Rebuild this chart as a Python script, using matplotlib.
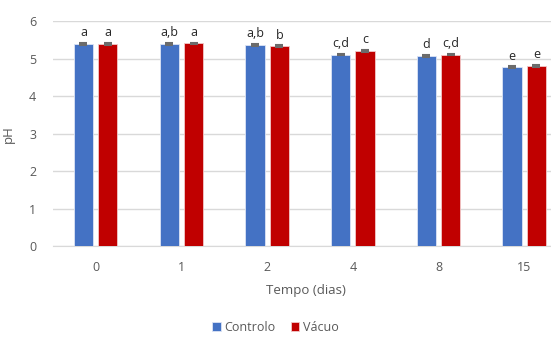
import numpy as np
import matplotlib
matplotlib.use('Agg')
import matplotlib.pyplot as plt

days = ['0', '1', '2', '4', '8', '15']
controlo = [5.40, 5.39, 5.36, 5.11, 5.08, 4.77]
vacuo = [5.40, 5.41, 5.34, 5.21, 5.11, 4.81]
controlo_err = [0.03, 0.03, 0.03, 0.02, 0.02, 0.03]
vacuo_err = [0.03, 0.02, 0.02, 0.03, 0.02, 0.02]
controlo_lbl = ['a', 'a,b', 'a,b', 'c,d', 'd', 'e']
vacuo_lbl = ['a', 'a', 'b', 'c', 'c,d', 'e']

plt.rcParams['font.family'] = ['Open Sans', 'DejaVu Sans']
gray = '#595959'

fig = plt.figure(figsize=(5.51, 3.38), dpi=100)
ax = fig.add_axes([0.0958, 0.272, 0.9187, 0.665])

x = np.arange(len(days))
w = 0.225
off = 0.142
ax.bar(x - off, controlo, w, color='#4472C4', edgecolor='#DCE4F5', linewidth=0.6,
       yerr=controlo_err, ecolor='#6b6b6b', capsize=3, error_kw={'elinewidth': 1, 'capthick': 1.5},
       label='Controlo', zorder=3)
ax.bar(x + off, vacuo, w, color='#C00000', edgecolor='#F2C8C8', linewidth=0.6,
       yerr=vacuo_err, ecolor='#6b6b6b', capsize=3, error_kw={'elinewidth': 1, 'capthick': 1.5},
       label='Vácuo', zorder=3)

for i in range(len(days)):
    ax.text(x[i] - off, controlo[i] + controlo_err[i] + 0.1, controlo_lbl[i],
            ha='center', va='bottom', fontsize=9, color='#262626')
    ax.text(x[i] + off, vacuo[i] + vacuo_err[i] + 0.1, vacuo_lbl[i],
            ha='center', va='bottom', fontsize=9, color='#262626')

ax.set_ylim(0, 6)
ax.set_xlim(-0.5, 5.405)
ax.set_yticks(range(7))
ax.set_xticks(x)
ax.set_xticklabels(days)
ax.grid(axis='y', color='#D9D9D9', linewidth=1, zorder=0)
for s in ['top', 'right', 'left']:
    ax.spines[s].set_visible(False)
ax.spines['bottom'].set_color('#D9D9D9')
ax.tick_params(length=0, labelsize=9, labelcolor=gray)
ax.tick_params(axis='y', pad=12)
ax.tick_params(axis='x', pad=11)
ax.set_ylabel('pH', fontsize=9.5, color=gray, labelpad=10)
ax.set_xlabel('Tempo (dias)', fontsize=9.5, color=gray, labelpad=7)

fig.legend(loc='lower center', bbox_to_anchor=(0.5, -0.022), ncol=2, frameon=False,
           handlelength=0.7, handleheight=0.7, handletextpad=0.3, columnspacing=1.2,
           fontsize=9, labelcolor=gray)

plt.savefig('out.png', dpi=100)
